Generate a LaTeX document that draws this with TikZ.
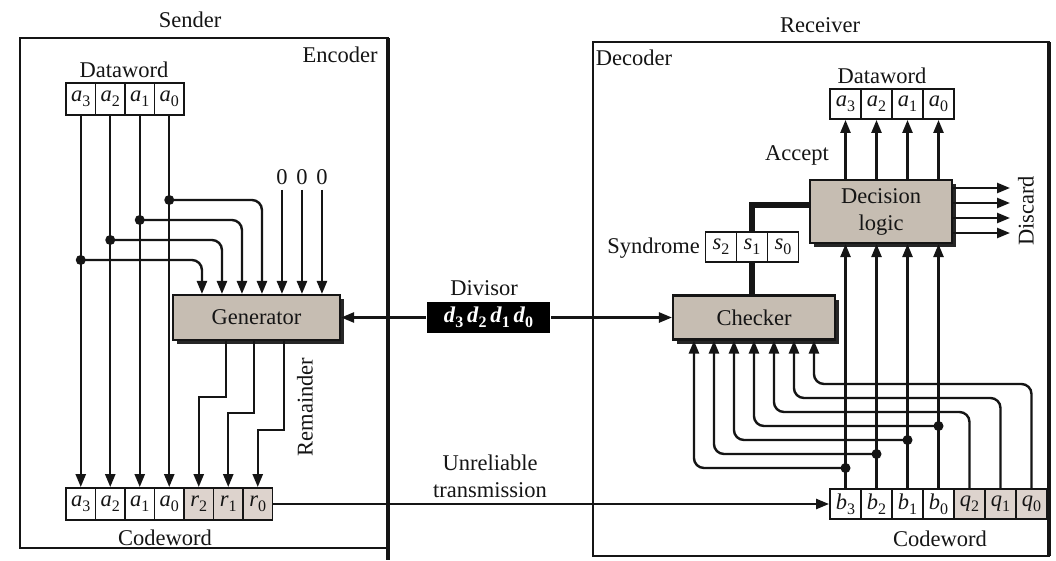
\documentclass[tikz,border=0pt]{standalone}
\usepackage{fontspec}
\setmainfont{Liberation Serif}
\usetikzlibrary{arrows.meta,shadows,calc}
\definecolor{procfill}{HTML}{C6BDB2}
\definecolor{cellfill}{HTML}{DDD3CD}
\definecolor{ink}{HTML}{151515}
\newcommand{\sv}[2]{\textit{#1}\raisebox{-0.22em}{\fontsize{16}{16}\selectfont #2}}
\begin{document}
\begin{tikzpicture}[x=1pt,y=-1pt,
  font=\fontsize{22.5}{27}\selectfont,
  line width=2.4pt, color=ink,
  >={Triangle[length=13pt,width=10pt]},
  cell/.style={draw,line width=1.9pt,minimum width=29.5pt,minimum height=32pt,inner sep=0pt},
  rcell/.style={cell,minimum width=31pt,minimum height=30pt},
  proc/.style={draw,line width=2.1pt,fill=procfill,inner sep=0pt,
    drop shadow={shadow xshift=4pt,shadow yshift=-4pt,opacity=1,fill=black!85}},
  lbl/.style={inner sep=0pt},
  dot/.style={circle,fill,inner sep=0pt,minimum size=10pt},
  frame/.style={line width=2.4pt},
  bus/.style={line width=5.5pt}
]
\fill[white] (0,0) rectangle (1056,560);
\useasboundingbox (0,0) rectangle (1056,560);

% frames
\draw[frame] (20,38) rectangle (388,548);
\draw[line width=4.5pt] (388,38) -- (388,560);
\draw[frame] (593,42) rectangle (1049,556);
\draw[line width=4.5pt] (1049,42) -- (1049,556);

\node[lbl] (sender) at (190,20) {Sender};
\node[lbl] (receiver) at (820,25) {Receiver};
\node[lbl] (encoder) at (340,55) {Encoder};
\node[lbl] (decoder) at (634,58) {Decoder};

% ===== Sender =====
\node[lbl] (ldwl) at (124,70) {Dataword};
\node[cell] (la3) at (80.75,99) {\sv{a}{3}};
\node[cell] (la2) at (110.25,99) {\sv{a}{2}};
\node[cell] (la1) at (139.75,99) {\sv{a}{1}};
\node[cell] (la0) at (169.25,99) {\sv{a}{0}};

\node[cell] (ca3) at (80.75,504) {\sv{a}{3}};
\node[cell] (ca2) at (110.25,504) {\sv{a}{2}};
\node[cell] (ca1) at (139.75,504) {\sv{a}{1}};
\node[cell] (ca0) at (169.25,504) {\sv{a}{0}};
\node[cell,fill=cellfill] (cr2) at (198.75,504) {\sv{r}{2}};
\node[cell,fill=cellfill] (cr1) at (228.25,504) {\sv{r}{1}};
\node[cell,fill=cellfill] (cr0) at (257.75,504) {\sv{r}{0}};
\node[lbl] (lcwl) at (165,538) {Codeword};

\node[proc,minimum width=167pt,minimum height=45pt] (gen) at (256.5,317.5) {Generator};

\path (gen.north west) ++(30,0) coordinate (gi1) ++(20,0) coordinate (gi2)
  ++(20,0) coordinate (gi3) ++(20,0) coordinate (gi4) ++(20,0) coordinate (gi5)
  ++(20,0) coordinate (gi6) ++(20,0) coordinate (gi7);
\path (gen.south west) ++(54,0) coordinate (go1) ++(28,0) coordinate (go2) ++(30,0) coordinate (go3);

\foreach \n in {3,2,1,0} \draw[->] (la\n.south) -- (ca\n.north);

\node[dot] (ta0) at (la0 |- 0,200) {};
\node[dot] (ta1) at (la1 |- 0,220) {};
\node[dot] (ta2) at (la2 |- 0,240) {};
\node[dot] (ta3) at (la3 |- 0,260) {};
\draw[->,rounded corners=10pt] (ta3.center) -- (ta3 -| gi1) -- (gi1);
\draw[->,rounded corners=10pt] (ta2.center) -- (ta2 -| gi2) -- (gi2);
\draw[->,rounded corners=10pt] (ta1.center) -- (ta1 -| gi3) -- (gi3);
\draw[->,rounded corners=10pt] (ta0.center) -- (ta0 -| gi4) -- (gi4);

\node[lbl] (z1) at (gi5 |- 0,177) {0};
\node[lbl] (z2) at (gi6 |- 0,177) {0};
\node[lbl] (z3) at (gi7 |- 0,177) {0};
\draw[->] (z1.south) ++(0,4) -- (gi5);
\draw[->] (z2.south) ++(0,4) -- (gi6);
\draw[->] (z3.south) ++(0,4) -- (gi7);

\draw[->] (go1) -- (go1 |- 0,397) -- (cr2.north |- 0,397) -- (cr2.north);
\draw[->] (go2) -- (go2 |- 0,413) -- (cr1.north |- 0,413) -- (cr1.north);
\draw[->] (go3) -- (go3 |- 0,430) -- (cr0.north |- 0,430) -- (cr0.north);
\node[lbl,rotate=90] (rem) at (305,407) {Remainder};

% ===== Divisor =====
\node[lbl] (divl) at (484,288) {Divisor};
\node[fill=black,text=white,minimum width=123pt,minimum height=31pt,inner sep=0pt] (div) at (488.5,317.5)
  {\bfseries\sv{d}{3}\,\sv{d}{2}\,\sv{d}{1}\,\sv{d}{0}};

% ===== Receiver =====
\node[proc,minimum width=162pt,minimum height=44pt] (chk) at (754,317.5) {Checker};
\node[proc,minimum width=142pt,minimum height=63pt,align=center] (dec) at (881,211.5) {Decision\\logic};

\draw[->] (div.west) -- (gen.east);
\draw[->] (div.east) -- (chk.west);

\node[rcell] (rd3) at (845.5,104) {\sv{a}{3}};
\node[rcell] (rd2) at (876.5,104) {\sv{a}{2}};
\node[rcell] (rd1) at (907.5,104) {\sv{a}{1}};
\node[rcell] (rd0) at (938.5,104) {\sv{a}{0}};
\node[lbl] (rdwl) at (882,76) {Dataword};
\node[lbl] (acc) at (797,155) {Accept};

\node[rcell] (rb3) at (845.5,504) {\sv{b}{3}};
\node[rcell] (rb2) at (876.5,504) {\sv{b}{2}};
\node[rcell] (rb1) at (907.5,504) {\sv{b}{1}};
\node[rcell] (rb0) at (938.5,504) {\sv{b}{0}};
\node[rcell,fill=cellfill] (rq2) at (969.5,504) {\sv{q}{2}};
\node[rcell,fill=cellfill] (rq1) at (1000.5,504) {\sv{q}{1}};
\node[rcell,fill=cellfill] (rq0) at (1031.5,504) {\sv{q}{0}};
\node[lbl] (rcwl) at (940,539) {Codeword};

\draw[->] (cr0.east) -- (rb3.west);
\node[lbl,align=center] (unrel) at (490,476) {Unreliable\\transmission};

\foreach \n in {3,2,1,0} {
  \draw[->] (rb\n.north) -- (rb\n.north |- dec.south);
  \draw[->] (dec.north -| rd\n) -- (rd\n.south);
}

\coordinate (dz1) at (1010,188);
\coordinate (dz2) at (1010,203);
\coordinate (dz3) at (1010,218);
\coordinate (dz4) at (1010,233);
\foreach \n in {1,2,3,4} \draw[->] (dec.east |- dz\n) -- (dz\n);
\node[lbl,rotate=90] (disc) at (1026,211) {Discard};

% syndrome
\node[lbl,anchor=east] (synl) at (701,248) {Syndrome};
\node[rcell] (s2) at (721,247) {\sv{s}{2}};
\node[rcell] (s1) at (752,247) {\sv{s}{1}};
\node[rcell] (s0) at (783,247) {\sv{s}{0}};
\draw[bus] (chk.north -| s1) -- (s1.south);
\draw[bus] (s1.north) -- (s1.north |- 0,205) -- (dec.west |- 0,205);

% checker inputs
\path (chk.south west) ++(22,0) coordinate (ci1) ++(20,0) coordinate (ci2)
  ++(20,0) coordinate (ci3) ++(20,0) coordinate (ci4) ++(20,0) coordinate (ci5)
  ++(20,0) coordinate (ci6) ++(20,0) coordinate (ci7);

\node[dot] (tb3) at (rb3 |- 0,468) {};
\node[dot] (tb2) at (rb2 |- 0,454) {};
\node[dot] (tb1) at (rb1 |- 0,440) {};
\node[dot] (tb0) at (rb0 |- 0,426) {};
\draw[->,rounded corners=10pt] (tb3.center) -- (tb3 -| ci1) -- (ci1);
\draw[->,rounded corners=10pt] (tb2.center) -- (tb2 -| ci2) -- (ci2);
\draw[->,rounded corners=10pt] (tb1.center) -- (tb1 -| ci3) -- (ci3);
\draw[->,rounded corners=10pt] (tb0.center) -- (tb0 -| ci4) -- (ci4);
\draw[->,rounded corners=10pt] (rq2.north) -- (rq2.north |- 0,412) -- (ci5 |- 0,412) -- (ci5);
\draw[->,rounded corners=10pt] (rq1.north) -- (rq1.north |- 0,398) -- (ci6 |- 0,398) -- (ci6);
\draw[->,rounded corners=10pt] (rq0.north) -- (rq0.north |- 0,384) -- (ci7 |- 0,384) -- (ci7);
\end{tikzpicture}
\end{document}
